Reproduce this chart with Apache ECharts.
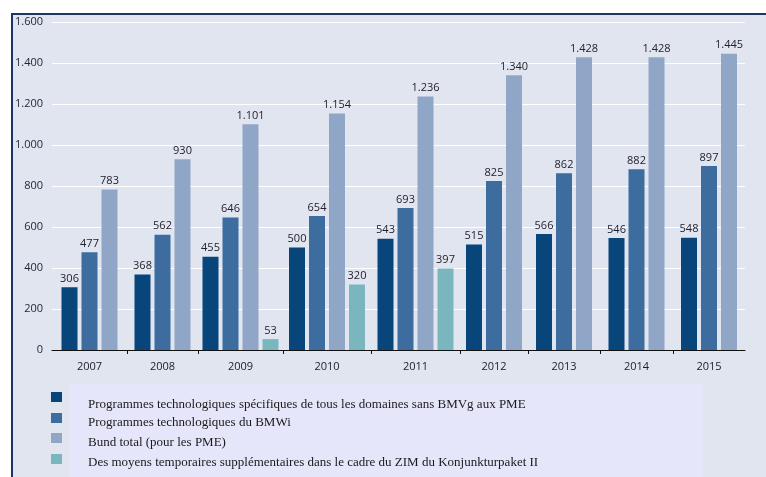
<!DOCTYPE html>
<html>
<head>
<meta charset="utf-8">
<script src="https://cdn.jsdelivr.net/npm/echarts@6/dist/echarts.min.js"></script>
<style>
  html, body { margin: 0; padding: 0; background: #fff; }
  #chart { width: 766px; height: 477px; }
</style>
</head>
<body>
<div id="chart"></div>
<script>
// données (en millions d'euros)
const years = ['2007', '2008', '2009', '2010', '2011', '2012', '2013', '2014', '2015'];
const seriesNames = [
    'Programmes technologiques spécifiques de tous les domaines sans BMVg aux PME',
    'Programmes technologiques du BMWi',
    'Bund total (pour les PME)',
    'Des moyens temporaires supplémentaires dans le cadre du ZIM du Konjunkturpaket II'
];
const specifiques = [306, 368, 455, 500, 543, 515, 566, 546, 548];
const bmwi        = [477, 562, 646, 654, 693, 825, 862, 882, 897];
const bundTotal   = [783, 930, 1101, 1154, 1236, 1340, 1428, 1428, 1445];
const zim         = [null, null, 53, 320, 397, null, null, null, null];
const yTicks = { min: 0, max: 1600, interval: 200 };

const COLORS = ['#08457a', '#3c6d9e', '#90a6c7', '#7ab6bd'];
const allValues = [specifiques, bmwi, bundTotal, zim];

// bornes des catégories (px) : les années à 4 barres sont plus larges
const bounds = [52, 127, 198, 283, 371, 460, 528, 600, 673, 745];
const PLOT_TOP = 22, PLOT_BOTTOM = 127;

const fmt = v => {
    const s = String(Math.round(v));
    return s.replace(/\B(?=(\d{3})+(?!\d))/g, '.');
};

const chart = echarts.init(document.getElementById('chart'), null, { renderer: 'canvas' });

const grids = [{ left: bounds[0], right: 766 - bounds[9], top: PLOT_TOP, bottom: PLOT_BOTTOM }];
const xAxes = [{ type: 'category', gridIndex: 0, data: [], show: false }];
const yAxes = [{
    type: 'value', gridIndex: 0, ...yTicks,
    axisLine: { show: false }, axisTick: { show: false },
    axisLabel: { formatter: fmt, color: '#1e2236', fontSize: 11, fontFamily: 'Open Sans', margin: 9 },
    splitLine: { lineStyle: { color: '#ffffff', width: 1.2 } }
}];
const series = [];

years.forEach((yr, i) => {
    const gi = i + 1;
    // pas de graduation aux deux extrémités de l'axe
    const showTick = i > 0 && i < years.length - 1;
    grids.push({ left: bounds[i], width: bounds[i + 1] - bounds[i], top: PLOT_TOP, bottom: PLOT_BOTTOM });
    xAxes.push({
        type: 'category', gridIndex: gi, data: [yr],
        axisLine: { lineStyle: { color: '#111', width: 1 } },
        axisTick: { show: showTick, length: 4, lineStyle: { color: '#111' } },
        axisLabel: { color: '#1c1c2a', fontSize: 11, fontFamily: 'Open Sans', margin: 11 }
    });
    yAxes.push({ type: 'value', gridIndex: gi, ...yTicks, show: false, splitLine: { show: false } });
    allValues.forEach((arr, s) => {
        if (arr[i] == null) return;
        series.push({
            name: seriesNames[s],
            type: 'bar',
            xAxisIndex: gi,
            yAxisIndex: gi,
            data: [arr[i]],
            barWidth: 16,
            barGap: '25%',
            itemStyle: { color: COLORS[s] },
            label: {
                show: true, position: 'top', distance: 3,
                formatter: p => fmt(p.value),
                color: '#22222e', fontSize: 11, fontFamily: 'Open Sans'
            },
            animation: false
        });
    });
});

// légende dessinée à la main (carrés hors du cadre lavande)
const legendRowsY = [392, 413, 433, 454];
const legendTextY = [405, 423, 443, 463];
const legendGraphics = [];
seriesNames.forEach((name, s) => {
    legendGraphics.push({
        type: 'rect', shape: { x: 51, y: legendRowsY[s], width: 11, height: 10 },
        style: { fill: COLORS[s] }, z: 10
    });
    legendGraphics.push({
        type: 'text', x: 88, y: legendTextY[s],
        style: { text: name, fill: '#1a1a1a', font: '13px "Liberation Serif", serif', verticalAlign: 'middle', align: 'left' },
        z: 10
    });
});

chart.setOption({
    animation: false,
    backgroundColor: '#ffffff',
    grid: grids,
    xAxis: xAxes,
    yAxis: yAxes,
    series: series,
    graphic: [
        { type: 'rect', shape: { x: 11, y: 13, width: 755, height: 464 }, style: { fill: '#e1e5f0' }, z: -100, silent: true },
        { type: 'line', shape: { x1: 11, y1: 14, x2: 766, y2: 14 }, style: { stroke: '#1c3566', lineWidth: 2 }, z: -90 },
        { type: 'line', shape: { x1: 12, y1: 13, x2: 12, y2: 477 }, style: { stroke: '#1c3566', lineWidth: 2 }, z: -90 },
        { type: 'rect', shape: { x: 69, y: 384, width: 634, height: 93 }, style: { fill: '#e6e6fa' }, z: -80, silent: true },
        ...legendGraphics
    ]
});
</script>
</body>
</html>
